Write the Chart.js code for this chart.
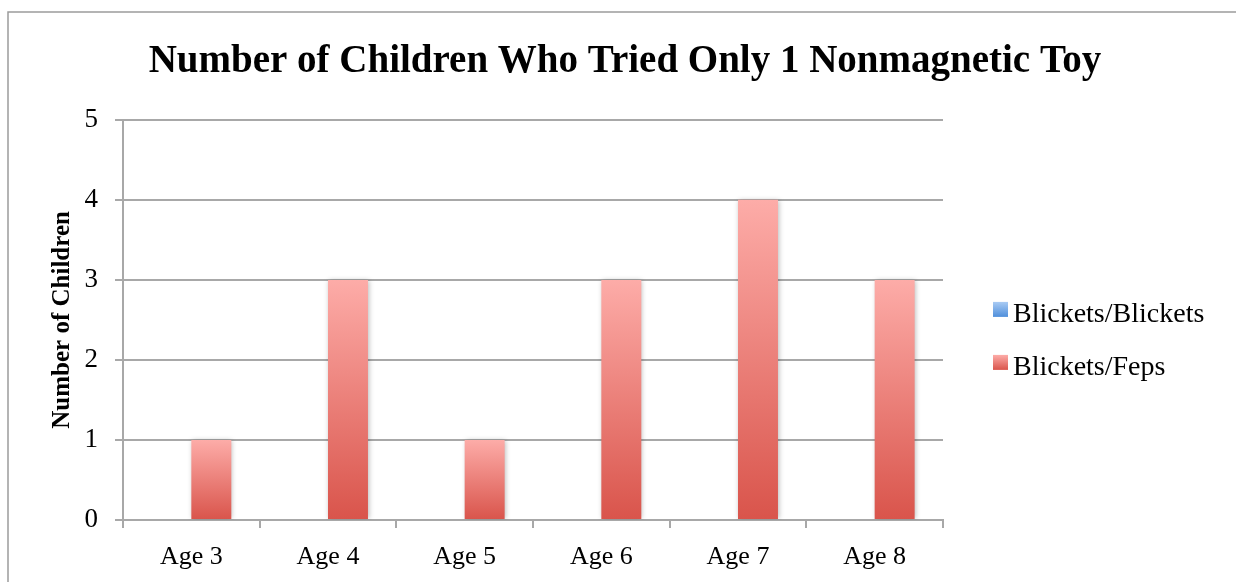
<!DOCTYPE html>
<html>
<head>
<meta charset="utf-8">
<script src="https://cdn.jsdelivr.net/npm/chart.js@4"></script>
<style>
  html, body { margin: 0; padding: 0; background: #fff; }
  canvas { display: block; }
</style>
</head>
<body>
<canvas id="myChart" width="1236" height="582"></canvas>
<script>
// ------------------   DATA   ----------------
const ages = ['Age 3', 'Age 4', 'Age 5', 'Age 6', 'Age 7', 'Age 8'];
const seriesNames = ['Blickets/Blickets', 'Blickets/Feps'];
const blicketsBlickets = [0, 0, 0, 0, 0, 0];
const blicketsFeps = [1, 3, 1, 3, 4, 3];
const yTicks = [0, 1, 2, 3, 4, 5];

// ------------------   STYLE   ----------------
const serif = "'Liberation Serif', 'Times New Roman', serif";
const gridGray = '#a8a8a8';
const topColors = ['#a9cbf4', '#fdaca8'];
const bottomColors = ['#4f8fdb', '#d9544b'];

// ------------   FUNCTIONS   ----------------------

// each bar gets its own vertical gradient, light on top and dark at the base
function barGradient(i) {
  return (context) => {
    const { chart, parsed } = context;
    const y = chart.scales.y;
    if (!y || !parsed || !chart.chartArea) return bottomColors[i];
    const yTop = y.getPixelForValue(parsed.y);
    const yBase = y.getPixelForValue(0);
    if (!isFinite(yTop) || Math.abs(yBase - yTop) < 1) return bottomColors[i];
    const g = chart.ctx.createLinearGradient(0, yTop, 0, yBase);
    g.addColorStop(0, topColors[i]);
    g.addColorStop(1, bottomColors[i]);
    return g;
  };
}

// gray frame around the chart (top and left edges are visible)
const frame = {
  id: 'frame',
  beforeDraw(chart) {
    const c = chart.ctx;
    c.save();
    c.strokeStyle = '#9c9c9c';
    c.lineWidth = 1.5;
    c.beginPath();
    c.moveTo(8, chart.height + 2);
    c.lineTo(8, 12);
    c.lineTo(chart.width + 2, 12);
    c.stroke();
    c.restore();
  },
};

// soft shadow behind the bars
const barShadow = {
  id: 'barShadow',
  beforeDatasetsDraw(chart) {
    const c = chart.ctx;
    c.save();
    c.shadowColor = 'rgba(0,0,0,0.28)';
    c.shadowBlur = 5;
    c.shadowOffsetX = 1;
    c.shadowOffsetY = 0;
  },
  afterDatasetsDraw(chart) {
    chart.ctx.restore();
  },
};

// legend on the right, as its own layout box
const sideLegend = {
  id: 'sideLegend',
  beforeInit(chart) {
    const box = {
      position: 'right',
      weight: 1000,
      fullSize: false,
      options: {},
      isHorizontal() {
        return false;
      },
      update(maxWidth, maxHeight) {
        this.width = 293;
        this.height = maxHeight;
      },
      draw() {
        const c = chart.ctx;
        const x = this.left + 50;
        const mid = (this.top + this.bottom) / 2;
        c.save();
        c.font = `28px ${serif}`;
        c.textBaseline = 'alphabetic';
        c.textAlign = 'left';
        chart.data.datasets.forEach((ds, i) => {
          const y = mid - 18 + i * 53;
          const g = c.createLinearGradient(0, y, 0, y + 15);
          g.addColorStop(0, topColors[i]);
          g.addColorStop(1, bottomColors[i]);
          c.fillStyle = g;
          c.fillRect(x, y, 15, 15);
          c.fillStyle = '#000';
          c.fillText(ds.label, x + 20, y + 20);
        });
        c.restore();
      },
    };
    Chart.layouts.addBox(chart, box);
  },
};

function renderChart() {
  const ctx = document.getElementById('myChart').getContext('2d');
  new Chart(ctx, {
    type: 'bar',
    data: {
      labels: ages,
      datasets: [
        {
          label: seriesNames[0],
          data: blicketsBlickets,
          backgroundColor: barGradient(0),
        },
        {
          label: seriesNames[1],
          data: blicketsFeps,
          backgroundColor: barGradient(1),
        },
      ],
    },
    options: {
      responsive: false,
      animation: false,
      events: [],
      categoryPercentage: 0.585,
      barPercentage: 1,
      layout: { padding: { left: 14, right: 0, top: 0, bottom: 0 } },
      plugins: {
        legend: { display: false },
        tooltip: { enabled: false },
        title: {
          display: true,
          text: 'Number of Children Who Tried Only 1 Nonmagnetic Toy',
          color: '#000',
          font: { family: serif, size: 39, weight: 'bold' },
          padding: { top: 39, bottom: 34 },
        },
      },
      scales: {
        x: {
          grid: {
            drawOnChartArea: false,
            color: gridGray,
            lineWidth: 2,
            tickLength: 8,
          },
          border: { color: gridGray, width: 2 },
          ticks: {
            color: '#000',
            font: { family: serif, size: 26 },
            padding: 14,
          },
          afterFit(scale) {
            scale.height = 62;
          },
        },
        y: {
          min: yTicks[0],
          max: yTicks[yTicks.length - 1],
          afterBuildTicks(scale) {
            scale.ticks = yTicks.map((v) => ({ value: v }));
          },
          grid: { color: gridGray, lineWidth: 2, tickLength: 8 },
          border: { color: gridGray, width: 2 },
          ticks: {
            color: '#000',
            font: { family: serif, size: 27 },
            padding: 17,
          },
          title: {
            display: true,
            text: 'Number of Children',
            color: '#000',
            font: { family: serif, size: 25, weight: 'bold' },
            padding: { top: 34, bottom: 0 },
          },
          afterFit(scale) {
            scale.width = 109;
          },
        },
      },
    },
    plugins: [frame, barShadow, sideLegend],
  });
}

// ------------ function calls ---------------------
renderChart();
</script>
</body>
</html>
